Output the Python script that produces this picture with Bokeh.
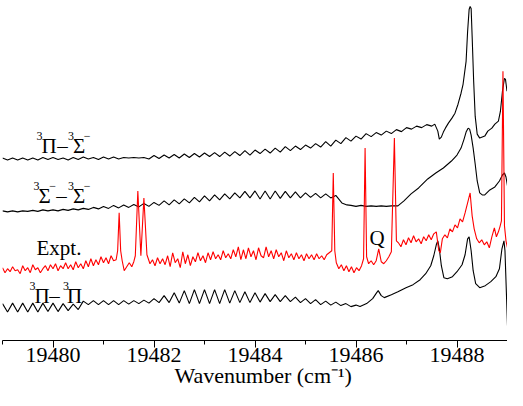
from bokeh.plotting import figure
from bokeh.models import Range1d, FixedTicker, Label
from bokeh.embed import file_html
from bokeh.resources import INLINE

# ---------------- data ----------------
tick_values = [19480, 19482, 19484, 19486, 19488]
tick_labels = ["19480", "19482", "19484", "19486", "19488"]
minor_values = [19479, 19481, 19483, 19485, 19487, 19489]

# 3Pi - 3Sigma- (top black trace)
pisig_x = [
    19479.0, 19479.1, 19479.2, 19479.3, 19479.4, 19479.5, 19479.6, 19479.7, 19479.8, 19479.9,
    19480.0, 19480.1, 19480.2, 19480.3, 19480.4, 19480.5, 19480.6, 19480.7, 19480.8, 19480.9,
    19481.0, 19481.1, 19481.2, 19481.3, 19481.4, 19481.5, 19481.6, 19481.7, 19481.8, 19481.9,
    19482.0, 19482.1, 19482.2, 19482.3, 19482.4, 19482.5, 19482.6, 19482.7, 19482.8, 19482.9,
    19483.0, 19483.1, 19483.2, 19483.3, 19483.4, 19483.5, 19483.6, 19483.7, 19483.8, 19483.9,
    19484.0, 19484.1, 19484.2, 19484.3, 19484.4, 19484.5, 19484.6, 19484.7, 19484.8, 19484.9,
    19485.0, 19485.1, 19485.2, 19485.3, 19485.4, 19485.5, 19485.6, 19485.7, 19485.8, 19485.9,
    19486.0, 19486.1, 19486.2, 19486.3, 19486.4, 19486.5, 19486.6, 19486.7, 19486.8, 19486.9,
    19487.0, 19487.1, 19487.2, 19487.3, 19487.4, 19487.5,
    19487.56, 19487.62, 19487.65, 19487.69, 19487.73, 19487.77, 19487.83, 19487.90, 19487.96, 19488.02,
    19488.08, 19488.12, 19488.18, 19488.21, 19488.24, 19488.26, 19488.28, 19488.30, 19488.33, 19488.36,
    19488.40, 19488.45, 19488.50, 19488.55, 19488.61, 19488.69, 19488.75, 19488.82, 19488.86, 19488.90,
    19488.94, 19488.96, 19488.99,
]
pisig_y = [
    18.3, 18.1, 18.3, 18.1, 18.3, 18.1, 18.3, 18.1, 18.35, 18.15,
    18.35, 18.15, 18.3, 18.1, 18.35, 18.15, 18.4, 18.2, 18.35, 18.15,
    18.4, 18.2, 18.4, 18.2, 18.35, 18.3, 18.35, 18.3, 18.35, 18.2,
    18.55, 18.25, 18.6, 18.3, 18.65, 18.3, 18.7, 18.35, 18.75, 18.4,
    18.8, 18.45, 18.85, 18.45, 18.9, 18.5, 18.95, 18.55, 19.05, 18.6,
    19.1, 18.75, 19.2, 18.8, 19.3, 18.9, 19.45, 19.05, 19.5, 19.15,
    19.6, 19.3, 19.75, 19.4, 19.95, 19.5, 20.1, 19.75, 20.35, 20.0,
    20.5, 20.2, 20.75, 20.45, 20.85, 20.6, 21.0, 20.75, 21.15, 20.95,
    21.35, 21.2, 21.5, 21.35, 21.65, 21.5,
    21.7, 21.0, 20.2, 20.4, 20.9, 21.3, 21.8, 22.3, 22.8, 23.7,
    24.8, 25.7, 28.0, 31.0, 33.2, 33.5, 33.3, 30.5, 26.0, 22.5,
    20.7, 20.3, 20.4, 20.5, 21.0, 21.3, 21.7, 22.0, 23.0, 25.0,
    26.3, 26.2, 25.0,
]

# 3Sigma- - 3Sigma- (second black trace)
sigsig_x = [
    19479.0, 19479.1, 19479.2, 19479.3, 19479.4, 19479.5, 19479.6, 19479.7, 19479.8, 19479.9,
    19480.0, 19480.1, 19480.2, 19480.3, 19480.4, 19480.5, 19480.6, 19480.7, 19480.8, 19480.9,
    19481.0, 19481.1, 19481.2, 19481.3, 19481.4, 19481.5, 19481.6, 19481.7, 19481.8, 19481.9,
    19482.0, 19482.1, 19482.2, 19482.3, 19482.4, 19482.5, 19482.6, 19482.7, 19482.8, 19482.9,
    19483.0, 19483.1, 19483.2, 19483.3, 19483.4, 19483.5, 19483.6, 19483.7, 19483.8, 19483.9,
    19484.0, 19484.1, 19484.2, 19484.3, 19484.4, 19484.5, 19484.6, 19484.7, 19484.8, 19484.9,
    19485.0, 19485.1, 19485.2, 19485.3, 19485.4, 19485.5, 19485.6,
    19485.64, 19485.72, 19485.82, 19485.9, 19486.0, 19486.1, 19486.2, 19486.3, 19486.4, 19486.5,
    19486.6, 19486.7, 19486.83, 19486.95, 19487.09, 19487.24, 19487.42, 19487.58, 19487.73, 19487.89,
    19488.0, 19488.08, 19488.14, 19488.18, 19488.22, 19488.25, 19488.28, 19488.32, 19488.36, 19488.40,
    19488.45, 19488.50, 19488.55, 19488.65, 19488.75, 19488.84, 19488.90, 19488.94, 19488.97, 19489.0,
]
sigsig_y = [
    13.0, 12.9, 13.0, 12.9, 13.0, 12.95, 13.05, 12.95, 13.1, 13.0,
    13.1, 13.0, 13.15, 13.05, 13.2, 13.1, 13.25, 13.15, 13.35, 13.2,
    13.45, 13.25, 13.55, 13.3, 13.6, 13.35, 13.65, 13.4, 13.75, 13.45,
    13.85, 13.55, 14.0, 13.6, 14.1, 13.7, 14.2, 13.8, 14.35, 13.9,
    14.5, 14.0, 14.6, 14.1, 14.7, 14.2, 14.8, 14.3, 14.95, 14.3,
    15.0, 14.2, 15.0, 14.2, 15.0, 14.25, 14.95, 14.3, 14.9, 14.3,
    14.8, 14.35, 14.75, 14.3, 14.7, 14.3, 14.55,
    14.3, 13.8, 13.6, 13.55, 13.45, 13.55, 13.45, 13.5, 13.45, 13.5,
    13.45, 13.5, 13.5, 14.0, 14.7, 15.3, 16.2, 16.8, 17.3, 18.0,
    18.6, 19.3, 20.2, 20.9, 21.3, 21.2, 20.6, 19.3, 17.7, 16.0,
    14.8, 14.6, 14.6, 15.1, 15.4, 16.0, 16.6, 16.8, 16.4, 15.5,
]

# Experimental spectrum (red)
expt_x = [
    19479.00, 19479.05, 19479.10, 19479.15, 19479.20, 19479.25, 19479.30, 19479.35, 19479.40, 19479.45,
    19479.50, 19479.55, 19479.60, 19479.65, 19479.70, 19479.75, 19479.80, 19479.85, 19479.90, 19479.95,
    19480.00, 19480.05, 19480.10, 19480.15, 19480.20, 19480.25, 19480.30, 19480.35, 19480.40, 19480.45,
    19480.50, 19480.55, 19480.60, 19480.65, 19480.70, 19480.75, 19480.80, 19480.85, 19480.90, 19480.95,
    19481.00, 19481.05, 19481.10, 19481.15, 19481.20,
    19481.25, 19481.28, 19481.31, 19481.34, 19481.37, 19481.41, 19481.46, 19481.51, 19481.56, 19481.60,
    19481.63, 19481.68, 19481.74, 19481.80, 19481.86, 19481.92,
    19481.97, 19482.02, 19482.07, 19482.12, 19482.17, 19482.22, 19482.27, 19482.32, 19482.37, 19482.42,
    19482.47, 19482.52, 19482.57, 19482.62, 19482.67, 19482.72, 19482.77, 19482.82, 19482.87, 19482.92,
    19482.97, 19483.02, 19483.07, 19483.12, 19483.17, 19483.22, 19483.27, 19483.32, 19483.37, 19483.42,
    19483.47, 19483.52, 19483.57, 19483.62, 19483.67, 19483.72, 19483.77,
    19483.82, 19483.87, 19483.92, 19483.97, 19484.02, 19484.07, 19484.12, 19484.17, 19484.22, 19484.27,
    19484.32, 19484.37, 19484.42, 19484.47, 19484.52, 19484.57, 19484.62, 19484.67, 19484.72, 19484.77,
    19484.82, 19484.87, 19484.92, 19484.97, 19485.02, 19485.07, 19485.12, 19485.17, 19485.22, 19485.27,
    19485.32, 19485.37, 19485.42, 19485.47,
    19485.52, 19485.55, 19485.58, 19485.61, 19485.66, 19485.71, 19485.76, 19485.81, 19485.86, 19485.91,
    19485.96, 19486.01, 19486.06, 19486.11, 19486.15, 19486.18, 19486.21, 19486.25, 19486.30, 19486.35,
    19486.40, 19486.45, 19486.50, 19486.55, 19486.60, 19486.65, 19486.70, 19486.76, 19486.80, 19486.84,
    19486.89, 19486.94, 19486.99, 19487.04, 19487.09, 19487.14, 19487.19, 19487.24, 19487.29, 19487.34,
    19487.39, 19487.44, 19487.49, 19487.54, 19487.59, 19487.64, 19487.67, 19487.71, 19487.76, 19487.81,
    19487.86, 19487.91, 19487.96, 19488.01, 19488.06, 19488.11, 19488.16, 19488.20, 19488.26, 19488.30,
    19488.34, 19488.39, 19488.44, 19488.49, 19488.54, 19488.59, 19488.64, 19488.69, 19488.74, 19488.78,
    19488.82, 19488.85, 19488.88, 19488.91, 19488.94, 19488.97, 19489.00,
]
expt_y = [
    7.3, 6.8, 7.2, 6.9, 7.4, 7.0, 7.1, 6.7, 7.5, 7.0,
    7.3, 6.8, 7.6, 7.1, 7.3, 6.8, 7.2, 7.5, 7.0, 7.6,
    7.2, 7.7, 7.0, 7.5, 7.2, 7.8, 7.2, 7.6, 7.1, 7.9,
    7.3, 7.7, 7.2, 8.0, 7.4, 8.2, 7.5, 8.1, 7.6, 8.4,
    7.8, 8.3, 7.7, 8.5, 8.0,
    8.1, 9.0, 12.8, 9.0, 8.0, 7.0, 7.4, 7.8, 7.4, 7.9,
    8.5, 15.0, 8.5, 14.3, 8.6, 7.7,
    8.1, 7.5, 8.3, 7.7, 8.2, 7.6, 8.5, 7.4, 8.8, 7.8,
    8.2, 7.3, 8.9, 7.7, 8.6, 7.5, 8.4, 7.9, 8.8, 8.0,
    8.5, 7.8, 8.8, 8.1, 8.9, 8.2, 8.6, 8.1, 9.0, 8.3,
    8.7, 8.2, 9.1, 8.4, 9.4, 8.1, 9.1,
    8.2, 9.3, 8.4, 9.0, 8.1, 9.3, 8.5, 8.3, 9.4, 8.4,
    9.0, 8.2, 9.1, 8.4, 8.8, 8.0, 9.0, 8.3, 8.7, 8.1,
    8.8, 8.2, 8.6, 8.0, 8.7, 8.2, 8.6, 8.1, 8.7, 8.2,
    8.5, 8.1, 8.6, 8.8,
    9.0, 16.8, 9.0, 7.8, 7.2, 7.6, 7.0, 7.5, 6.9, 7.4,
    6.8, 7.3, 7.0, 7.5, 8.2, 19.3, 8.4, 7.7, 8.0, 7.6,
    8.0, 9.2, 7.9, 7.7, 8.0, 8.4, 8.9, 20.3, 10.0, 9.8,
    9.4, 10.1, 9.6, 10.3, 9.8, 10.5, 9.9, 10.2, 9.7, 10.4,
    10.0, 10.6, 10.1, 10.7, 10.9, 9.0, 8.8, 10.2, 10.6, 10.3,
    11.2, 10.9, 11.6, 11.3, 12.2, 11.9, 12.8, 13.6, 14.8, 12.5,
    11.2, 10.2, 9.8, 10.1, 9.6, 9.9, 9.3, 10.4, 11.3, 10.4,
    10.9, 11.4, 12.0, 27.0, 11.5, 10.0, 9.3,
]

# 3Pi - 3Pi (bottom black trace)
pipi_x = [
    19479.0, 19479.1, 19479.2, 19479.3, 19479.4, 19479.5, 19479.6, 19479.7, 19479.8, 19479.9,
    19480.0, 19480.1, 19480.2, 19480.3, 19480.4, 19480.5, 19480.6, 19480.7, 19480.8, 19480.9,
    19481.0, 19481.1, 19481.2, 19481.3, 19481.4, 19481.5, 19481.6, 19481.7, 19481.8, 19481.9,
    19482.0, 19482.1, 19482.2, 19482.3, 19482.4, 19482.5, 19482.6, 19482.7, 19482.8, 19482.9,
    19483.0, 19483.1, 19483.2, 19483.3, 19483.4, 19483.5, 19483.6, 19483.7, 19483.8, 19483.9,
    19484.0, 19484.1, 19484.2, 19484.3, 19484.4, 19484.5, 19484.6, 19484.7, 19484.8, 19484.9,
    19485.0, 19485.1, 19485.2, 19485.3, 19485.4, 19485.5, 19485.6, 19485.7,
    19485.80, 19485.90, 19486.00, 19486.08, 19486.21, 19486.33, 19486.41, 19486.44, 19486.50, 19486.56,
    19486.70, 19486.83, 19486.99, 19487.13, 19487.27, 19487.38, 19487.48, 19487.54, 19487.59, 19487.62,
    19487.65, 19487.69, 19487.74, 19487.81, 19487.91, 19488.00, 19488.10, 19488.16, 19488.21, 19488.24,
    19488.28, 19488.32, 19488.37, 19488.45, 19488.56, 19488.67, 19488.77, 19488.84, 19488.89, 19488.93,
    19488.95, 19489.00,
]
pipi_y = [
    3.7, 2.85, 3.75, 2.85, 3.75, 2.85, 3.75, 2.85, 3.75, 2.9,
    3.75, 2.9, 3.7, 3.0, 3.65, 3.1, 3.95, 3.6, 4.0, 3.6,
    4.0, 3.6, 4.0, 3.6, 4.0, 3.65, 4.0, 3.7, 4.05, 3.75,
    4.2, 3.8, 4.5, 3.8, 4.8, 3.75, 5.0, 3.7, 5.1, 3.7,
    5.1, 3.7, 5.1, 3.7, 5.1, 3.75, 5.0, 3.8, 4.9, 3.8,
    4.8, 3.85, 4.7, 3.9, 4.6, 3.9, 4.5, 3.9, 4.35, 3.8,
    4.2, 3.7, 4.1, 3.6, 3.95, 3.55, 3.85, 3.5,
    3.7, 3.4, 3.55, 3.4, 3.7, 4.2, 4.8, 5.0, 4.5, 4.3,
    4.6, 4.9, 5.3, 5.6, 6.1, 6.7, 7.5, 8.5, 9.6, 10.0,
    9.2, 7.5, 6.3, 6.2, 6.4, 6.9, 7.6, 8.6, 10.2, 10.4,
    9.0, 7.0, 5.7, 5.3, 5.5, 5.9, 6.4, 7.2, 9.2, 10.0,
    9.0, 1.5,
]

# ---------------- figure ----------------
SERIF = "Liberation Serif"

p = figure(width=507, height=390, output_backend="svg", toolbar_location=None,
           x_range=Range1d(19479, 19489), y_range=Range1d(0, 33.8),
           y_axis_location=None,
           min_border_left=2, min_border_right=0, min_border_top=3, min_border_bottom=0)
p.grid.visible = False
p.outline_line_color = None
p.background_fill_color = "white"
p.border_fill_color = "white"

p.line(pisig_x, pisig_y, line_color="black", line_width=1.1)
p.line(sigsig_x, sigsig_y, line_color="black", line_width=1.1)
p.line(pipi_x, pipi_y, line_color="black", line_width=1.1)
p.line(expt_x, expt_y, line_color="#ff0000", line_width=1.1)

ax = p.xaxis[0]
ax.ticker = FixedTicker(ticks=tick_values, minor_ticks=minor_values)
ax.major_label_overrides = {v: t for v, t in zip(tick_values, tick_labels)}
ax.axis_line_color = "black"
ax.axis_line_width = 1.2
ax.major_tick_line_color = "black"
ax.minor_tick_line_color = "black"
ax.major_tick_out = 7
ax.major_tick_in = 0
ax.minor_tick_out = 4
ax.minor_tick_in = 0
ax.major_label_standoff = 0
ax.major_label_text_font = SERIF
ax.major_label_text_font_size = "22px"
ax.major_label_text_color = "black"
ax.axis_label = "\u00a0\u00a0\u00a0Wavenumber (cm\u207b\u00b9)"
ax.axis_label_text_font = SERIF
ax.axis_label_text_font_size = "22px"
ax.axis_label_text_font_style = "normal"
ax.axis_label_text_color = "black"
ax.axis_label_standoff = -2

# ---------------- trace labels: (text, x, y, size) ----------------
label_pieces = [
    # 3Pi - 3Sigma-
    ("3", 19479.673, 20.5, "12px"), ("\u03a0", 19479.771, 19.5, "21px"),
    ("\u2013", 19480.083, 19.5, "21px"), ("3", 19480.298, 20.5, "12px"),
    ("\u03a3", 19480.395, 19.5, "21px"), ("\u2212", 19480.610, 20.5, "12px"),
    # 3Sigma- - 3Sigma-
    ("3", 19479.615, 15.5, "12px"), ("\u03a3", 19479.712, 14.5, "21px"),
    ("\u2212", 19479.927, 15.5, "12px"), ("\u2013", 19480.063, 14.5, "21px"),
    ("3", 19480.298, 15.5, "12px"), ("\u03a3", 19480.395, 14.5, "21px"),
    ("\u2212", 19480.610, 15.5, "12px"),
    # Expt.
    ("Expt.", 19479.673, 9.3, "21px"),
    # 3Pi - 3Pi
    ("3", 19479.537, 5.5, "12px"), ("\u03a0", 19479.634, 4.5, "21px"),
    ("\u2013", 19479.927, 4.5, "21px"), ("3", 19480.200, 5.5, "12px"),
    ("\u03a0", 19480.278, 4.5, "21px"),
    # Q branch marker
    ("Q", 19486.268, 10.3, "21px"),
]
for txt, lx, ly, size in label_pieces:
    p.add_layout(Label(x=lx, y=ly, text=txt, text_font=SERIF, text_font_size=size,
                       text_color="black", text_align="left", text_baseline="alphabetic"))

open("out.html", "w").write(file_html(p, INLINE))
